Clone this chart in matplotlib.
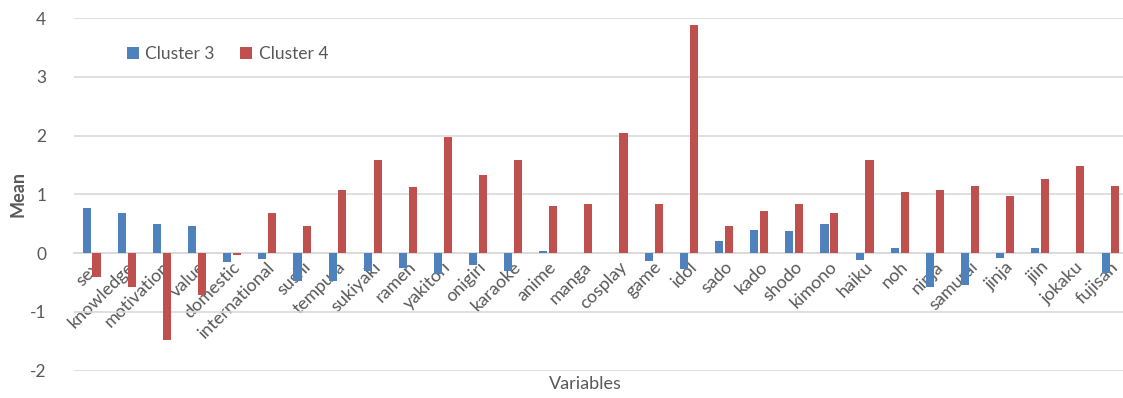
import numpy as np
import matplotlib.pyplot as plt

plt.rcParams['font.family'] = ['Lato', 'DejaVu Sans']
plt.rcParams['axes.unicode_minus'] = False

# data
variables = ['sex', 'knowledge', 'motivation', 'value', 'domestic', 'international',
             'sushi', 'tempura', 'sukiyaki', 'ramen', 'yakitori', 'onigiri', 'karaoke',
             'anime', 'manga', 'cosplay', 'game', 'idol', 'sado', 'kado', 'shodo',
             'kimono', 'haiku', 'noh', 'ninja', 'samurai', 'jinja', 'jiin', 'jokaku',
             'fujisan']
cluster3 = [0.76, 0.68, 0.50, 0.46, -0.15, -0.10,
            -0.47, -0.47, -0.30, -0.25, -0.36, -0.21, -0.30,
            0.03, 0.00, 0.00, -0.14, -0.27, 0.21, 0.40, 0.38,
            0.49, -0.12, 0.09, -0.57, -0.55, -0.08, 0.09, 0.00,
            -0.34]
cluster4 = [-0.41, -0.58, -1.48, -0.71, -0.03, 0.69,
            0.47, 1.07, 1.58, 1.13, 1.98, 1.33, 1.58,
            0.80, 0.84, 2.05, 0.84, 3.88, 0.47, 0.71, 0.84,
            0.68, 1.58, 1.04, 1.08, 1.14, 0.98, 1.27, 1.48,
            1.14]

BLUE = '#4F81BD'
RED = '#C0504D'
GRID = '#D9D9D9'
TXT = '#595959'

fig = plt.figure(figsize=(11.23, 3.98), dpi=100)
ax = fig.add_axes([0.0659, 0.0686, 0.9386, 0.886])

x = np.arange(len(variables))
w = 0.23
ax.bar(x - 0.14, cluster3, width=w, color=BLUE, label='Cluster 3', zorder=3)
ax.bar(x + 0.14, cluster4, width=w, color=RED, label='Cluster 4', zorder=3)

ax.set_xlim(-0.5, len(variables) - 0.5)
ax.set_ylim(-2, 4)
ax.set_yticks(range(-2, 5))
ax.yaxis.grid(True, color=GRID, lw=1.2, zorder=0)
ax.set_axisbelow(True)

# category axis sits on the zero line, like the Excel original
for s in ['top', 'right', 'left']:
    ax.spines[s].set_visible(False)
ax.spines['bottom'].set_position(('data', 0))
ax.spines['bottom'].set_color(GRID)
ax.spines['bottom'].set_linewidth(1.2)

ax.set_xticks(x)
ax.set_xticklabels(variables, rotation=45, ha='right', rotation_mode='anchor',
                   fontsize=13, color=TXT)
ax.tick_params(axis='x', length=0, pad=4)
ax.tick_params(axis='y', length=0, pad=20, labelsize=12.5, labelcolor=TXT)

fig.text(18 / 1123, 1 - 194 / 398, 'Mean', fontsize=13, color=TXT, fontweight='bold',
         rotation=90, ha='center', va='center')
fig.text(585 / 1123, 1 - 384 / 398, 'Variables', fontsize=13, color=TXT,
         ha='center', va='center')

ax.legend(ncol=2, loc='upper left', bbox_to_anchor=(0.035, 0.965), frameon=False,
          handlelength=0.7, handleheight=0.7, handletextpad=0.35, columnspacing=1.5,
          fontsize=12.5, labelcolor=TXT)

fig.savefig('out.png', dpi=100)
